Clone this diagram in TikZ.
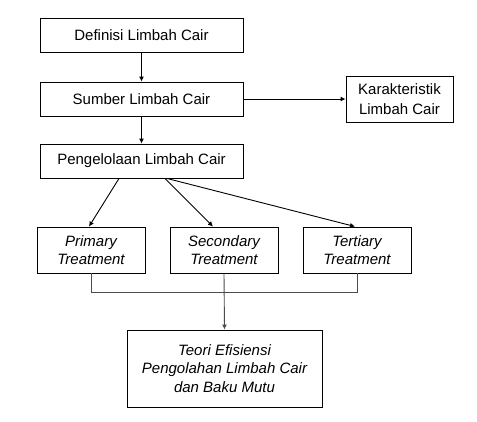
\documentclass[tikz,border=0pt]{standalone}
\usepackage{fontspec}
\setmainfont{Liberation Sans}
\usetikzlibrary{arrows.meta,calc}
\begin{document}
\begin{tikzpicture}[x=1pt,y=-1pt,
  box/.style={draw=black,line width=0.9pt,align=center,inner sep=1pt,font=\fontsize{15}{20}\selectfont},
  ibox/.style={box,font=\fontsize{15}{18.5}\selectfont\itshape},
  arr/.style={-{Latex[length=5pt,width=5pt]},line width=0.9pt},
  glin/.style={line width=1pt,draw=black!70}]
\useasboundingbox[fill=white] (0,0) rectangle (477,421);
\node[box,minimum width=203pt,minimum height=34pt] (d) at (141.5,35) {Definisi Limbah Cair};
\node[box,minimum width=203pt,minimum height=34pt] (s) at (141.5,99) {Sumber Limbah Cair};
\node[box,minimum width=203pt,minimum height=34pt] (p) at (141.5,161) {Pengelolaan Limbah Cair};
\node[box,minimum width=107pt,minimum height=46pt] (k) at (399.5,99) {Karakteristik\\Limbah Cair};
\node[ibox,minimum width=108pt,minimum height=46pt] (pr) at (91,250) {Primary\\Treatment};
\node[ibox,minimum width=108pt,minimum height=46pt] (se) at (224,250) {Secondary\\Treatment};
\node[ibox,minimum width=108pt,minimum height=46pt] (te) at (357,250) {Tertiary\\Treatment};
\node[ibox,minimum width=195pt,minimum height=77pt] (t) at (224.5,368.5) {Teori Efisiensi\\Pengolahan Limbah Cair\\dan Baku Mutu};
\draw[arr] (d) -- (s);
\draw[arr] (s) -- (p);
\draw[arr] (s.east) -- (k.west);
\draw[arr] ([xshift=-22.5pt]p.south) -- ([xshift=-2pt]pr.north);
\draw[arr] ([xshift=23.5pt]p.south) -- ([xshift=-11pt]se.north);
\draw[arr] ([xshift=25.5pt]p.south) -- ([xshift=-2pt]te.north);
\coordinate (j) at (224,292);
\draw[glin] (pr.south) |- (j);
\draw[glin] (te.south) |- (j);
\draw[glin,arr,draw=black!70] (se.south) -- (t.north);
\end{tikzpicture}
\end{document}
